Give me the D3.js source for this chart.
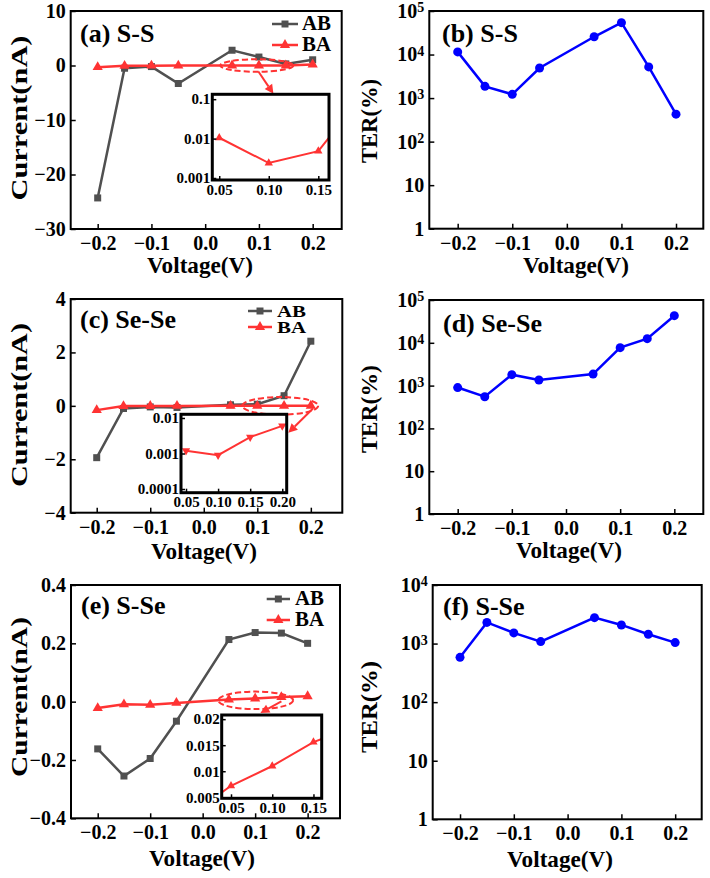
<!DOCTYPE html>
<html>
<head>
<meta charset="utf-8">
<script src="https://cdn.jsdelivr.net/npm/d3@7"></script>
<style>
  body { margin: 0; background: #fff; }
  text { font-family: "Liberation Serif", "Times New Roman", serif; font-weight: bold; fill: #000; }
</style>
</head>
<body>
<svg id="fig" width="710" height="878"></svg>
<script>
// bias voltages (V)
const volt = [-0.2, -0.15, -0.1, -0.05, 0.05, 0.1, 0.15, 0.2];

// current (nA), AB and BA configurations
const ssAB  = [-24.3, -0.5, -0.2, -3.3, 2.8, 1.55, 0.3, 1.05];
const ssBA  = [-0.3, -0.05, -0.03, -0.02, 0.0105, 0.0024, 0.0048, 0.19];
const seAB  = [-1.94, -0.1, -0.04, -0.06, 0.04, 0.06, 0.38, 2.42];
const seBA  = [-0.16, -0.01, -0.005, -0.003, 0.0012, 0.0009, 0.0029, 0.006];
const sseAB = [-0.162, -0.255, -0.195, -0.067, 0.213, 0.237, 0.235, 0.2];
const sseBA = [-0.022, -0.009, -0.011, -0.0043, 0.0072, 0.011, 0.0156, 0.0186];

// TER (%)
const terSS   = [11500, 1860, 1220, 4900, 25600, 54000, 5200, 427];
const terSeSe = [900, 550, 1800, 1350, 1860, 7700, 12500, 43000];
const terSSe  = [582, 2300, 1520, 1080, 2770, 2080, 1440, 1040];

// tick values
const xTicks = [-0.2, -0.1, 0, 0.1, 0.2];
const yTicksSS = [-30, -20, -10, 0, 10];
const yTicksSe = [-4, -2, 0, 2, 4];
const yTicksSSe = [-0.4, -0.2, 0, 0.2, 0.4];
const terTicks5 = [1, 10, 100, 1000, 10000, 100000];
const terTicks4 = [1, 10, 100, 1000, 10000];

const gray = "#505050", red = "#ff3333", blue = "#0000ff";
const svg = d3.select("#fig");

function pairs(vals) {
  return volt.map((v, i) => [v, vals[i]]);
}

function frame(g, w, h, sw) {
  g.append("rect").attr("width", w).attr("height", h)
    .attr("fill", "none").attr("stroke", "#000").attr("stroke-width", sw);
}

function styleAxis(a, fs) {
  a.attr("font-family", null).attr("font-size", null);
  a.select(".domain").remove();
  a.selectAll(".tick line").attr("stroke", "#000").attr("stroke-width", 1.5);
  a.selectAll(".tick text").attr("font-size", fs).attr("fill", "#000");
}

function axes(g, x, y, w, h, xt, yt, yfmt) {
  let ax = g.append("g").attr("transform", `translate(0,${h})`)
    .call(d3.axisBottom(x).tickValues(xt).tickFormat(d3.format(".1f"))
      .tickSizeInner(-5).tickSizeOuter(0).tickPadding(7));
  styleAxis(ax, 20);
  let ay = g.append("g")
    .call(d3.axisLeft(y).tickValues(yt).tickFormat(yfmt)
      .tickSizeInner(-5).tickSizeOuter(0).tickPadding(5));
  styleAxis(ay, 20);
  return ay;
}

function titles(cfg, ytitle, ylen) {
  svg.append("text").attr("x", cfg.xt[0]).attr("y", cfg.xt[1] + 1)
    .attr("text-anchor", "middle").attr("font-size", 23)
    .attr("textLength", 106).attr("lengthAdjust", "spacingAndGlyphs").text("Voltage(V)");
  svg.append("text")
    .attr("transform", `translate(${cfg.yt[0]},${cfg.yt[1]}) rotate(-90)`)
    .attr("text-anchor", "middle").attr("font-size", 24)
    .attr("textLength", ylen).attr("lengthAdjust", "spacingAndGlyphs")
    .text(ytitle);
  svg.append("text").attr("x", cfg.lab[0]).attr("y", cfg.lab[1])
    .attr("font-size", 26).text(cfg.label);
}

function drawCurrent(cfg, ab, ba, yt, yfmt) {
  const w = cfg.box[2] - cfg.box[0], h = cfg.box[3] - cfg.box[1];
  const g = svg.append("g").attr("transform", `translate(${cfg.box[0]},${cfg.box[1]})`);
  const x = d3.scaleLinear().domain(cfg.xd).range([0, w]);
  const y = d3.scaleLinear().domain(cfg.yd).range([h, 0]);
  axes(g, x, y, w, h, xTicks, yt, yfmt);

  const line = d3.line().x(d => x(d[0])).y(d => y(d[1]));
  g.append("path").datum(pairs(ab)).attr("d", line)
    .attr("fill", "none").attr("stroke", gray).attr("stroke-width", 2.5);
  g.selectAll(".sq").data(pairs(ab)).join("path")
    .attr("transform", d => `translate(${x(d[0])},${y(d[1])})`)
    .attr("d", d3.symbol(d3.symbolSquare, 49)).attr("fill", gray);
  g.append("path").datum(pairs(ba)).attr("d", line)
    .attr("fill", "none").attr("stroke", red).attr("stroke-width", 2.5);
  g.selectAll(".tri").data(pairs(ba)).join("path")
    .attr("transform", d => `translate(${x(d[0])},${y(d[1])})`)
    .attr("d", d3.symbol(d3.symbolTriangle, 45)).attr("fill", red);

  // dashed ellipse + arrow towards the inset
  const e = cfg.ell;
  g.append("ellipse").attr("cx", x(e.cx)).attr("cy", y(e.cy))
    .attr("rx", x(e.cx + e.rx) - x(e.cx)).attr("ry", y(e.cy) - y(e.cy + e.ry))
    .attr("fill", "none").attr("stroke", red).attr("stroke-width", 2)
    .attr("stroke-dasharray", "6,3");
  const a0 = [x(e.arrow[0]), y(e.arrow[1])], a1 = [x(e.arrow[2]), y(e.arrow[3])];
  const ang = Math.atan2(a1[1] - a0[1], a1[0] - a0[0]);
  const hl = 9, hw = 4.5;
  const bx = a1[0] - hl * Math.cos(ang), by = a1[1] - hl * Math.sin(ang);
  g.append("line").attr("x1", a0[0]).attr("y1", a0[1]).attr("x2", bx).attr("y2", by)
    .attr("stroke", red).attr("stroke-width", 2);
  g.append("path")
    .attr("d", `M${a1[0]},${a1[1]}L${bx - hw * Math.sin(ang)},${by + hw * Math.cos(ang)}L${bx + hw * Math.sin(ang)},${by - hw * Math.cos(ang)}Z`)
    .attr("fill", red);

  frame(g, w, h, 2);

  // legend
  const L = cfg.leg;
  [[gray, d3.symbolSquare, 49, "AB", L.y[0]], [red, d3.symbolTriangle, 45, "BA", L.y[1]]]
    .forEach(([c, sym, sz, name, ly]) => {
      svg.append("line").attr("x1", L.x[0]).attr("x2", L.x[1]).attr("y1", ly).attr("y2", ly)
        .attr("stroke", c).attr("stroke-width", 2.5);
      svg.append("path").attr("transform", `translate(${(L.x[0] + L.x[1]) / 2},${ly})`)
        .attr("d", d3.symbol(sym, sz)).attr("fill", c);
      svg.append("text").attr("x", L.x[2]).attr("y", ly + 6).attr("font-size", L.fs)
        .attr("textLength", 29).attr("lengthAdjust", "spacingAndGlyphs").text(name);
    });

  titles(cfg, "Current(nA)", cfg.ylen);
  drawInset(cfg.inset, ba);
}

function drawInset(ins, ba) {
  const w = ins.box[2] - ins.box[0], h = ins.box[3] - ins.box[1];
  const g = svg.append("g").attr("transform", `translate(${ins.box[0]},${ins.box[1]})`);
  g.append("rect").attr("width", w).attr("height", h).attr("fill", "#fff");
  const x = d3.scaleLinear().domain(ins.xd).range([0, w]);
  const y = (ins.log ? d3.scaleLog() : d3.scaleLinear()).domain(ins.yd).range([h, 0]);
  const id = "clip" + ins.box[0].toFixed(0);
  g.append("clipPath").attr("id", id).append("rect").attr("width", w).attr("height", h);
  const pts = pairs(ba).filter(d => d[1] > 0 || !ins.log);
  const line = d3.line().x(d => x(d[0])).y(d => y(d[1]));
  const pg = g.append("g").attr("clip-path", `url(#${id})`);
  pg.append("path").datum(pts).attr("d", line)
    .attr("fill", "none").attr("stroke", red).attr("stroke-width", 2);
  pg.selectAll("path.m").data(pts).join("path").attr("class", "m")
    .attr("transform", d => `translate(${x(d[0])},${y(d[1])}) rotate(${ins.down ? 180 : 0})`)
    .attr("d", d3.symbol(d3.symbolTriangle, 30)).attr("fill", red);

  let ax = g.append("g").attr("transform", `translate(0,${h})`)
    .call(d3.axisBottom(x).tickValues(ins.xt).tickFormat(d3.format(".2f"))
      .tickSizeInner(-4).tickSizeOuter(0).tickPadding(4));
  styleAxis(ax, 15);
  let ay = g.append("g")
    .call(d3.axisLeft(y).tickValues(ins.yt).tickFormat(d => String(d))
      .tickSizeInner(-4).tickSizeOuter(0).tickPadding(2));
  styleAxis(ay, 15);
  frame(g, w, h, 3);
}

function drawTER(cfg, vals, ticks) {
  const w = cfg.box[2] - cfg.box[0], h = cfg.box[3] - cfg.box[1];
  const g = svg.append("g").attr("transform", `translate(${cfg.box[0]},${cfg.box[1]})`);
  const x = d3.scaleLinear().domain(cfg.xd).range([0, w]);
  const y = d3.scaleLog().domain(cfg.yd).range([h, 0]);
  const ay = axes(g, x, y, w, h, xTicks, ticks, () => "");
  ay.selectAll(".tick text").each(function (d) {
    const t = d3.select(this);
    const e = Math.round(Math.log10(d));
    if (e <= 1) { t.text(e === 0 ? "1" : "10"); return; }
    t.text("10");
    t.append("tspan").attr("dy", "-0.4em").attr("font-size", 14).text(e);
  });
  const line = d3.line().x(d => x(d[0])).y(d => y(d[1]));
  g.append("path").datum(pairs(vals)).attr("d", line)
    .attr("fill", "none").attr("stroke", blue).attr("stroke-width", 2.5);
  g.selectAll("circle").data(pairs(vals)).join("circle")
    .attr("cx", d => x(d[0])).attr("cy", d => y(d[1])).attr("r", 4.5).attr("fill", blue);
  frame(g, w, h, 2);
  titles(cfg, "TER(%)", cfg.ylen);
}

// (a) S-S current
drawCurrent({
  box: [70.7, 11, 341.7, 229], xd: [-0.2502, 0.254], yd: [-30, 10],
  xt: [200, 272], yt: [27, 118], ylen: 165, lab: [80, 42], label: "(a) S-S",
  leg: { x: [272, 298, 302], y: [24, 45], fs: 20 },
  ell: { cx: 0.096, cy: 0, rx: 0.068, ry: 1.15, arrow: [0.099, -1.1, 0.127, -5.2] },
  inset: { box: [212.3, 94.3, 329, 180], xd: [0.043, 0.1608], yd: [0.00089, 0.133], log: true,
    xt: [0.05, 0.10, 0.15], yt: [0.001, 0.01, 0.1] }
}, ssAB, ssBA, yTicksSS, d3.format("d"));

// (c) Se-Se current
drawCurrent({
  box: [70.7, 299, 342.3, 512.7], xd: [-0.2486, 0.2588], yd: [-4, 4],
  xt: [204, 558], yt: [27, 405], ylen: 164, lab: [80, 328], label: "(c) Se-Se",
  leg: { x: [248, 272, 277], y: [311, 327], fs: 16 },
  ell: { cx: 0.1428, cy: 0, rx: 0.071, ry: 0.33, arrow: [0.204, -0.1, 0.158, -1.01] },
  inset: { box: [181, 414.3, 286.7, 492.7], xd: [0.0422, 0.2069], yd: [0.0000787, 0.0127], log: true,
    down: true, xt: [0.05, 0.10, 0.15, 0.20], yt: [0.0001, 0.001, 0.01] }
}, seAB, seBA, yTicksSe, d3.format("d"));

// (e) S-Se current
drawCurrent({
  box: [71, 585, 340, 818.3], xd: [-0.2509, 0.2617], yd: [-0.4, 0.4],
  xt: [202, 865], yt: [27, 697], ylen: 160, lab: [81, 614], label: "(e) S-Se",
  leg: { x: [266.7, 290, 295], y: [599, 620], fs: 20 },
  ell: { cx: 0.101, cy: 0.0045, rx: 0.0714, ry: 0.030, arrow: [0.150, 0.001, 0.110, -0.039] },
  inset: { box: [221.7, 715, 321.7, 798.3], xd: [0.0387, 0.160], yd: [0.0048, 0.0208], log: false,
    xt: [0.05, 0.10, 0.15], yt: [0.005, 0.01, 0.015, 0.02] }
}, sseAB, sseBA, yTicksSSe, d3.format(".1f"));

// (b) (d) (f) TER
drawTER({
  box: [429.3, 11, 703.3, 228.7], xd: [-0.252, 0.25], yd: [1, 1e5],
  xt: [576, 272], yt: [377, 121], ylen: 84, lab: [442, 42], label: "(b) S-S"
}, terSS, terTicks5);
drawTER({
  box: [429.3, 300, 703.3, 514], xd: [-0.2524, 0.2535], yd: [1, 1e5],
  xt: [569, 557], yt: [377, 409], ylen: 88, lab: [443, 332], label: "(d) Se-Se"
}, terSeSe, terTicks5);
drawTER({
  box: [432.7, 585, 701.7, 819.3], xd: [-0.2508, 0.2493], yd: [1, 1e4],
  xt: [560, 866], yt: [377, 707], ylen: 92, lab: [443, 615], label: "(f) S-Se"
}, terSSe, terTicks4);
</script>
</body>
</html>
